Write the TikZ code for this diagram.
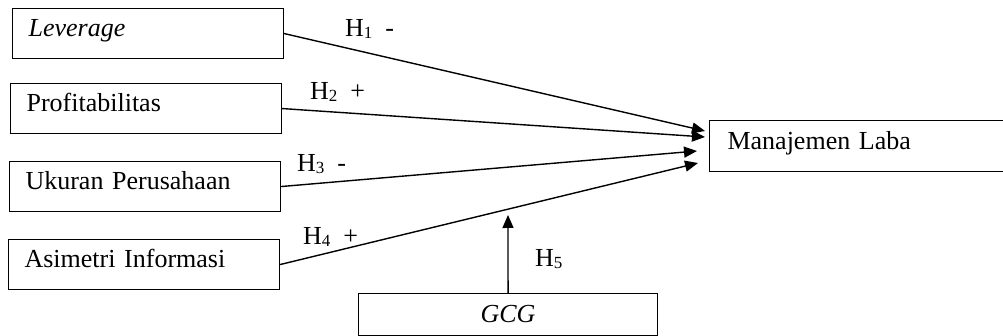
\documentclass[tikz,border=0pt]{standalone}
\usepackage{fontspec}
\setmainfont{Liberation Serif}
\usetikzlibrary{arrows.meta}
\newcommand{\hsub}[1]{\raisebox{-2pt}{\fontsize{17}{17}\selectfont #1}}

\begin{document}
\begin{tikzpicture}[x=1pt,y=-1pt,
  every node/.style={font=\fontsize{26}{30}\selectfont},
  varbox/.style={draw,line width=1.1pt,anchor=north west,minimum height=50pt,
    text width=239pt,inner xsep=16pt,align=left,text height=16pt,text depth=10pt},
  hyp/.style={anchor=base west,inner sep=0pt},
  link/.style={line width=1.4pt,-{Triangle[length=13pt,width=11pt]}}]
\path[use as bounding box,clip] (0,0) rectangle (1003,336);
\node[varbox] (lev) at (12,8) {\textit{Leverage}};
\node[varbox] (prof) at (10,83) {Profitabilitas};
\node[varbox] (uk) at (9,161) {Ukuran Perusahaan};
\node[varbox] (asi) at (8,239) {Asimetri Informasi};
\node[varbox,minimum height=51pt,text width=263pt,inner xsep=18pt] (ml) at (709,120) {Manajemen Laba};
\node[varbox,minimum height=42pt,text width=267pt,align=center,text height=20pt,text depth=4pt] (gcg) at (358,293) {\textit{GCG}};
\coordinate (t1) at (705,131);
\coordinate (t2) at (705,137);
\coordinate (t3) at (697,151);
\coordinate (t4) at (698,163);
\coordinate (t5) at (508,215);
\draw[link] (lev.east) -- (t1);
\draw[link] (prof.east) -- (t2);
\draw[link] (uk.east) -- (t3);
\draw[link] (asi.east) -- (t4);
\draw[link] (gcg.north) -- (t5);
\node[hyp] (h1) at (345,37) {H\hsub{1} \ -};
\node[hyp] (h2) at (310,100) {H\hsub{2} \ +};
\node[hyp] (h3) at (297,172) {H\hsub{3} \ -};
\node[hyp] (h4) at (303,245) {H\hsub{4} \ +};
\node[hyp] (h5) at (535,267) {H\hsub{5}};
\end{tikzpicture}
\end{document}
